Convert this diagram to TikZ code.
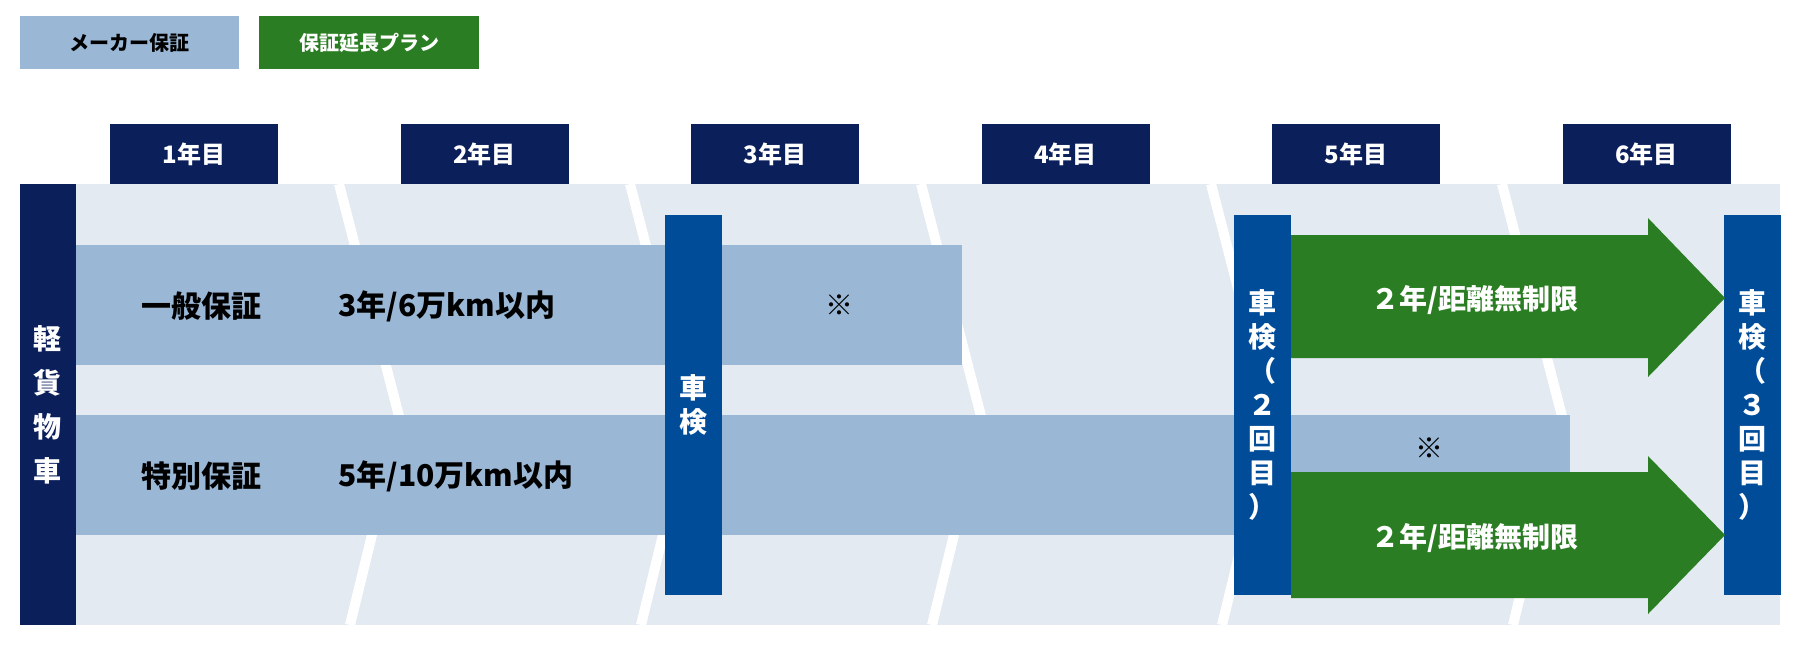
\documentclass[tikz,border=0pt]{standalone}
\usepackage{fontspec}
\setmainfont{Noto Sans CJK JP}
\usetikzlibrary{shapes.arrows}
\definecolor{navy}{HTML}{0B1F5B}
\definecolor{kenblue}{HTML}{004C99}
\definecolor{bandbg}{HTML}{E3EAF1}
\definecolor{barblue}{HTML}{9AB8D6}
\definecolor{plangreen}{HTML}{2A7D22}
\tikzset{
  yearbox/.style={fill=navy,text=white,minimum width=168pt,minimum height=60pt,inner sep=0pt,font=\fontsize{24}{24}\selectfont\bfseries},
  kenbox/.style={fill=kenblue,text=white,minimum width=57pt,minimum height=380pt,inner sep=0pt,font=\fontsize{28}{34}\selectfont\bfseries,align=center},
  bartext/.style={font=\fontsize{30}{30}\selectfont\bfseries},
  greentext/.style={text=white,font=\fontsize{28}{28}\selectfont\bfseries}
}
\begin{document}
\begin{tikzpicture}[x=1pt,y=-1pt]
\useasboundingbox (0,0) rectangle (1800,645);
% legend
\node[fill=barblue,minimum width=219pt,minimum height=53pt,font=\fontsize{20}{20}\selectfont\bfseries] (maker) at (129.5,42.5) {メーカー保証};
\node[fill=plangreen,text=white,minimum width=220pt,minimum height=53pt,font=\fontsize{20}{20}\selectfont\bfseries] (plan) at (369,42.5) {保証延長プラン};
% years
\foreach \i in {1,...,6}
{
\node[yearbox] (y\i) at ({194+290.5*(\i-1)},154) {\i 年目};
}
% background and stripes
\fill[bandbg] (20,184) rectangle (1780,625);
\foreach \x in {339,630,921,1211,1502}
{
\draw[white,line width=10pt] (\x,184) -- (\x+61,420) -- (\x+11,625);
}
% bars
\fill[barblue] (76,245) rectangle (962,365);
\fill[barblue] (76,415) rectangle (1570,535);
\node[bartext] (ippan) at (201,306) {一般保証};
\node[bartext,anchor=west] (ippanv) at (335,306) {3年/6万km以内};
\node[bartext] (tokubetsu) at (201,476) {特別保証};
\node[bartext,anchor=west] (tokubetsuv) at (335,476) {5年/10万km以内};
\node[font=\fontsize{28}{28}\selectfont] (kome1) at (839,305) {※};
\node[font=\fontsize{28}{28}\selectfont] (kome2) at (1429,448) {※};
% side label
\node[fill=navy,text=white,minimum width=56pt,minimum height=441pt,inner sep=0pt,align=center,font=\fontsize{28}{44}\selectfont\bfseries] (kei) at (48,404.5) {軽\\貨\\物\\車};
% inspections
\node[kenbox] (ken1) at (693.5,405) {車\\検};
\node[kenbox] (ken2) at (1262.5,405) {車\\検\\（\\２\\回\\目\\）};
\node[kenbox] (ken3) at (1752,405) {車\\検\\（\\３\\回\\目\\）};
% extension arrows
\fill[plangreen] (1291,235) -- (1648,235) -- (1648,218) -- (1725,298) -- (1648,377) -- (1648,358) -- (1291,358) -- cycle;
\fill[plangreen] (1291,472) -- (1648,472) -- (1648,456) -- (1725,535) -- (1648,614) -- (1648,598) -- (1291,598) -- cycle;
\node[greentext] (ext1) at (1475,300) {２年/距離無制限};
\node[greentext] (ext2) at (1475,538) {２年/距離無制限};
\end{tikzpicture}
\end{document}
